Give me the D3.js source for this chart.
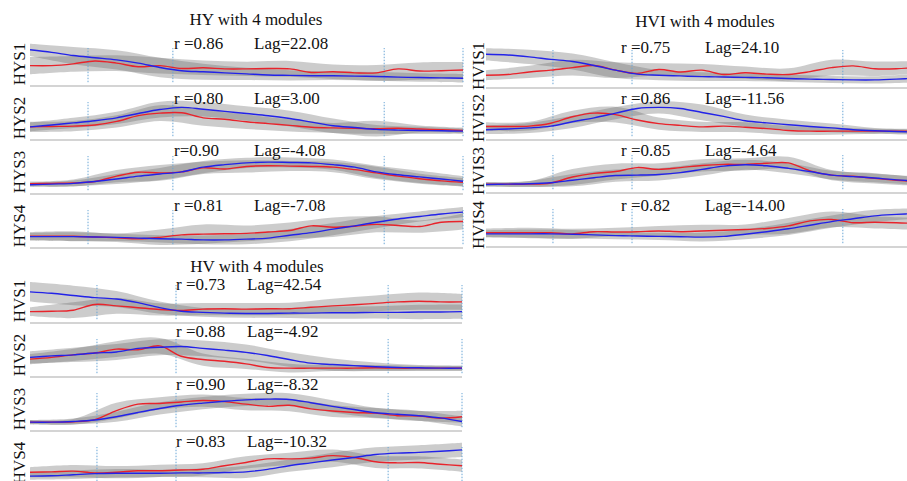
<!DOCTYPE html>
<html><head><meta charset="utf-8">
<script src="https://cdn.jsdelivr.net/npm/d3@7"></script>
<style>
html,body{margin:0;padding:0;background:#fff;overflow:hidden}
svg{display:block}
text{font-family:"Liberation Serif","Times New Roman",serif;fill:#111}
</style></head><body>
<svg id="chart" width="907" height="481"></svg>
<script>
// ---------- DATA ----------
const timePts = [0,5,10,15,20,25,30,35,40,45,50,55,60,65,70,75,80,85,90,95,100];
const bandPts = [0,10,20,30,40,50,60,70,80,90,100];

const groupTitles = ["HY with 4 modules", "HVI with 4 modules", "HV with 4 modules"];
const hyNames  = ["HYS1","HYS2","HYS3","HYS4"];
const hviNames = ["HVIS1","HVIS2","HVIS3","HVIS4"];
const hvNames  = ["HVS1","HVS2","HVS3","HVS4"];
const hyR  = ["r =0.86","r =0.80","r=0.90","r =0.81"];
const hyLag = ["Lag=22.08","Lag=3.00","Lag=-4.08","Lag=-7.08"];
const hviR = ["r =0.75","r =0.86","r =0.85","r =0.82"];
const hviLag = ["Lag=24.10","Lag=-11.56","Lag=-4.64","Lag=-14.00"];
const hvR  = ["r =0.73","r =0.88","r =0.90","r =0.83"];
const hvLag = ["Lag=42.54","Lag=-4.92","Lag=-8.32","Lag=-10.32"];

// event markers (dashed lines), in time units
const hyEvents  = [13.4, 33.0, 81.8, 100];
const hviEvents = [15.5, 33.8, 82.6, 100];
const hvEvents  = [15.5, 33.8, 82.9, 100];

// HY
const HYS1_red  = [.51,.51,.56,.64,.58,.48,.51,.43,.45,.42,.42,.43,.42,.32,.34,.31,.31,.42,.36,.37,.39];
const HYS1_blue = [.95,.88,.79,.73,.67,.58,.46,.37,.34,.31,.28,.25,.24,.23,.23,.22,.21,.19,.18,.17,.16];
const HYS1_redSd  = [.24,.22,.22,.22,.2,.2,.22,.2,.22,.24,.22];
const HYS1_blueSd = [.17,.24,.27,.27,.22,.17,.14,.12,.12,.12,.12];
const HYS2_red  = [.31,.32,.33,.36,.46,.62,.69,.70,.56,.52,.45,.40,.35,.30,.28,.27,.26,.27,.25,.23,.21];
const HYS2_blue = [.31,.36,.42,.48,.56,.68,.79,.85,.80,.74,.68,.62,.54,.44,.34,.29,.24,.22,.21,.20,.19];
const HYS2_redSd  = [.14,.14,.17,.22,.22,.2,.17,.14,.22,.1,.08];
const HYS2_blueSd = [.12,.14,.17,.22,.2,.2,.22,.2,.12,.1,.07];
const HYS3_red  = [.23,.24,.25,.29,.44,.55,.53,.56,.67,.64,.71,.73,.72,.71,.69,.62,.53,.44,.37,.31,.27];
const HYS3_blue = [.20,.22,.24,.29,.36,.44,.50,.56,.69,.76,.81,.83,.82,.81,.76,.69,.56,.48,.42,.36,.30];
const HYS3_redSd  = [.06,.1,.17,.22,.17,.17,.14,.14,.17,.14,.12];
const HYS3_blueSd = [.06,.08,.14,.17,.17,.14,.14,.14,.17,.17,.14];
const HYS4_red  = [.27,.27,.27,.25,.23,.20,.24,.31,.33,.34,.35,.39,.43,.56,.52,.55,.60,.57,.54,.66,.68];
const HYS4_blue = [.26,.26,.26,.25,.24,.22,.20,.19,.17,.17,.19,.22,.30,.37,.47,.56,.66,.75,.82,.89,.94];
const HYS4_redSd  = [.12,.14,.12,.22,.27,.22,.22,.27,.22,.17,.22];
const HYS4_blueSd = [.1,.12,.1,.1,.12,.14,.17,.17,.17,.14,.14];

// HVI
const HVIS1_red  = [.30,.32,.39,.44,.51,.57,.44,.35,.46,.39,.44,.32,.37,.33,.32,.40,.51,.56,.48,.48,.52];
const HVIS1_blue = [.88,.86,.81,.74,.68,.57,.44,.33,.30,.28,.26,.25,.24,.23,.21,.19,.18,.17,.17,.19,.22];
const HVIS1_redSd  = [.14,.17,.22,.22,.17,.17,.17,.17,.22,.2,.17];
const HVIS1_blueSd = [.17,.2,.22,.22,.14,.12,.1,.1,.1,.1,.12];
const HVIS2_red  = [.32,.32,.33,.41,.59,.69,.65,.50,.40,.35,.31,.33,.30,.26,.21,.19,.19,.19,.19,.19,.19];
const HVIS2_blue = [.23,.25,.28,.33,.45,.56,.69,.82,.85,.82,.71,.60,.48,.42,.37,.32,.28,.23,.20,.18,.16];
const HVIS2_redSd  = [.12,.12,.17,.22,.17,.14,.14,.12,.1,.07,.07];
const HVIS2_blueSd = [.12,.14,.17,.17,.17,.22,.17,.14,.12,.08,.07];
const HVIS3_red  = [.19,.19,.19,.22,.39,.49,.54,.65,.60,.65,.71,.74,.74,.77,.78,.56,.44,.41,.35,.30,.26];
const HVIS3_blue = [.18,.19,.20,.23,.30,.37,.43,.44,.46,.51,.60,.69,.73,.70,.63,.54,.44,.40,.36,.31,.28];
const HVIS3_redSd  = [.06,.08,.22,.22,.17,.17,.17,.17,.14,.14,.12];
const HVIS3_blueSd = [.06,.08,.17,.17,.17,.17,.14,.14,.12,.12,.12];
const HVIS4_red  = [.34,.34,.34,.34,.31,.37,.36,.37,.39,.37,.39,.41,.43,.46,.53,.67,.71,.62,.63,.62,.59];
const HVIS4_blue = [.31,.31,.31,.31,.30,.28,.26,.25,.24,.23,.22,.24,.30,.37,.45,.55,.65,.73,.81,.85,.88];
const HVIS4_redSd  = [.12,.14,.14,.12,.14,.17,.14,.22,.22,.17,.17];
const HVIS4_blueSd = [.1,.12,.12,.1,.1,.12,.14,.17,.17,.17,.14];

// HV
const HVS1_red  = [.26,.27,.30,.46,.42,.37,.32,.29,.33,.34,.33,.34,.34,.38,.42,.45,.49,.53,.55,.53,.53];
const HVS1_blue = [.81,.77,.71,.65,.61,.51,.37,.27,.24,.22,.21,.21,.22,.22,.23,.23,.24,.24,.25,.25,.26];
const HVS1_redSd  = [.12,.22,.22,.17,.17,.17,.17,.2,.22,.24,.22];
const HVS1_blueSd = [.27,.27,.22,.17,.12,.12,.14,.17,.17,.2,.2];
const HVS2_red  = [.44,.49,.56,.61,.72,.70,.81,.52,.43,.38,.31,.21,.19,.19,.19,.19,.20,.19,.19,.19,.19];
const HVS2_blue = [.49,.53,.56,.61,.64,.74,.77,.79,.74,.69,.63,.54,.43,.33,.29,.26,.23,.21,.20,.19,.19];
const HVS2_redSd  = [.14,.17,.22,.22,.17,.14,.12,.08,.08,.07,.07];
const HVS2_blueSd = [.17,.2,.22,.22,.22,.22,.2,.17,.12,.08,.07];
const HVS3_red  = [.19,.19,.20,.26,.51,.69,.71,.75,.79,.76,.69,.63,.66,.56,.50,.46,.44,.37,.36,.30,.34];
const HVS3_blue = [.19,.19,.21,.25,.34,.46,.57,.66,.72,.77,.81,.83,.82,.73,.63,.54,.45,.41,.37,.31,.21];
const HVS3_redSd  = [.06,.08,.22,.17,.17,.17,.17,.17,.14,.14,.17];
const HVS3_blueSd = [.06,.08,.14,.17,.17,.17,.17,.17,.14,.14,.14];
const HVS4_red  = [.30,.31,.33,.28,.30,.34,.34,.36,.38,.48,.57,.67,.67,.69,.76,.71,.59,.56,.57,.52,.48];
const HVS4_blue = [.19,.20,.23,.26,.27,.27,.27,.28,.28,.29,.31,.38,.48,.56,.64,.71,.79,.83,.85,.88,.92];
const HVS4_redSd  = [.14,.17,.17,.17,.17,.17,.17,.17,.17,.17,.17];
const HVS4_blueSd = [.1,.12,.12,.1,.12,.17,.17,.2,.2,.2,.2];

// ---------- LAYOUT (not data) ----------
const layout = [
  {x0:30,  x1:463, titleX:256, titleY:25, labelX:25,
   bottoms:[85,139,193,247], annY:[49,104,156,211], rX:174, lagX:254},
  {x0:486, x1:918, titleX:705, titleY:27, labelX:484,
   bottoms:[87,139,192,246], annY:[53,104,156,211], rX:621, lagX:705},
  {x0:30,  x1:462, titleX:257, titleY:272, labelX:25,
   bottoms:[322,376,430,484], annY:[290,337,390,447], rX:176, lagX:247}
];

const groups = [
  {names:hyNames, r:hyR, lag:hyLag, events:hyEvents,
   red:[HYS1_red,HYS2_red,HYS3_red,HYS4_red], blue:[HYS1_blue,HYS2_blue,HYS3_blue,HYS4_blue],
   redSd:[HYS1_redSd,HYS2_redSd,HYS3_redSd,HYS4_redSd], blueSd:[HYS1_blueSd,HYS2_blueSd,HYS3_blueSd,HYS4_blueSd]},
  {names:hviNames, r:hviR, lag:hviLag, events:hviEvents,
   red:[HVIS1_red,HVIS2_red,HVIS3_red,HVIS4_red], blue:[HVIS1_blue,HVIS2_blue,HVIS3_blue,HVIS4_blue],
   redSd:[HVIS1_redSd,HVIS2_redSd,HVIS3_redSd,HVIS4_redSd], blueSd:[HVIS1_blueSd,HVIS2_blueSd,HVIS3_blueSd,HVIS4_blueSd]},
  {names:hvNames, r:hvR, lag:hvLag, events:hvEvents,
   red:[HVS1_red,HVS2_red,HVS3_red,HVS4_red], blue:[HVS1_blue,HVS2_blue,HVS3_blue,HVS4_blue],
   redSd:[HVS1_redSd,HVS2_redSd,HVS3_redSd,HVS4_redSd], blueSd:[HVS1_blueSd,HVS2_blueSd,HVS3_blueSd,HVS4_blueSd]}
];

// ---------- DRAW ----------
const svg = d3.select("#chart");
const PANEL_H = 36;
const RED = "#e8232b", BLUE = "#2222e8";

groups.forEach((g, gi) => {
  const L = layout[gi];
  const x = d3.scaleLinear().domain([0,100]).range([L.x0, L.x1]);
  svg.append("text").attr("x", L.titleX).attr("y", L.titleY)
    .attr("text-anchor","middle").attr("font-size", 17).text(groupTitles[gi]);

  g.names.forEach((name, pi) => {
    const bottom = L.bottoms[pi];
    const y = d3.scaleLinear().domain([0,1]).range([bottom - 1, bottom - 1 - PANEL_H]);
    const pg = svg.append("g");

    const area = d3.area().curve(d3.curveCatmullRom.alpha(0.5))
      .x(d => x(d.t)).y0(d => y(Math.max(0.03, d.lo))).y1(d => y(d.hi));
    const mkBand = (vals, sd) => bandPts.map((t, i) => {
      const v = vals[timePts.indexOf(t)];
      return {t, lo: v - sd[i], hi: v + sd[i]};
    });
    [mkBand(g.blue[pi], g.blueSd[pi]), mkBand(g.red[pi], g.redSd[pi])].forEach(b => {
      pg.append("path").datum(b).attr("d", area)
        .attr("fill", "#6a6a6a").attr("fill-opacity", 0.34);
    });

    // baseline axis
    pg.append("line").attr("x1", x(0)).attr("x2", x(100))
      .attr("y1", bottom + 1).attr("y2", bottom + 1)
      .attr("stroke", "#d4d4d4").attr("stroke-width", 2);

    // event dashed lines
    g.events.forEach(ev => {
      pg.append("line").attr("x1", x(ev)).attr("x2", x(ev))
        .attr("y1", y(0.05)).attr("y2", y(1.0))
        .attr("stroke", "#6aa6d6").attr("stroke-width", 1)
        .attr("stroke-dasharray", "1.5,1.5");
    });

    const line = d3.line().curve(d3.curveCatmullRom.alpha(0.5))
      .x((d,i) => x(timePts[i])).y(d => y(d));
    pg.append("path").datum(g.red[pi]).attr("d", line)
      .attr("fill","none").attr("stroke", RED).attr("stroke-width", 1.4);
    pg.append("path").datum(g.blue[pi]).attr("d", line)
      .attr("fill","none").attr("stroke", BLUE).attr("stroke-width", 1.4);

    // annotations
    svg.append("text").attr("x", L.rX).attr("y", L.annY[pi]).attr("font-size", 17).text(g.r[pi]);
    svg.append("text").attr("x", L.lagX).attr("y", L.annY[pi]).attr("font-size", 17).text(g.lag[pi]);

    // row label
    svg.append("text")
      .attr("transform", `translate(${L.labelX},${bottom - 21}) rotate(-90)`)
      .attr("text-anchor","middle").attr("font-size", 17).text(name);
  });
});
</script>
</body></html>
